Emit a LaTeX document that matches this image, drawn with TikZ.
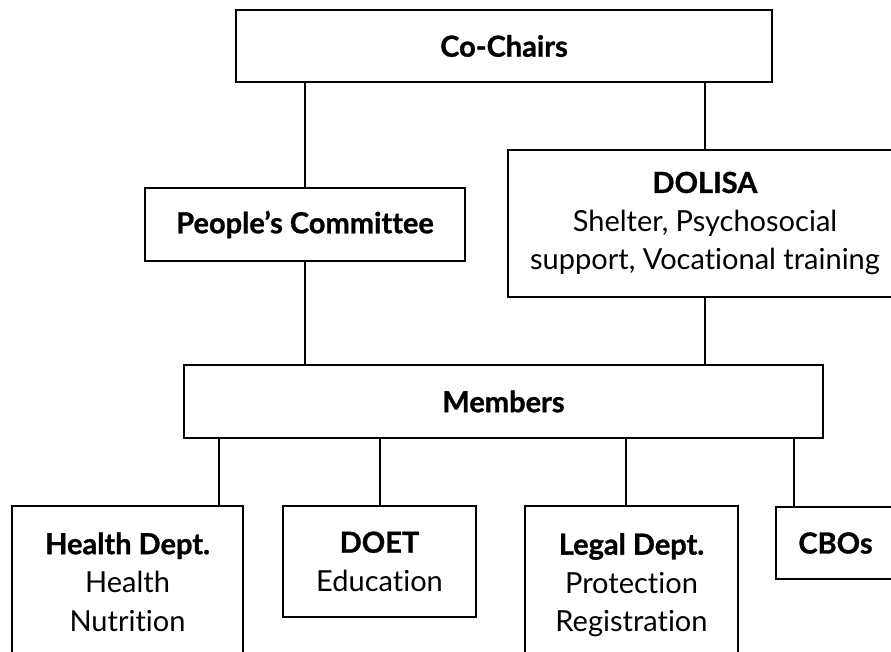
\documentclass[tikz,border=0pt]{standalone}
\usepackage{fontspec}
\setmainfont{Lato}[Ligatures=NoCommon, BoldFeatures={FakeBold=1}]
\usetikzlibrary{positioning}
\tikzset{
  caja/.style={draw, line width=2pt, align=center, inner sep=0pt, fill=white,
    font=\fontsize{29}{38.5}\selectfont},
  linea/.style={line width=1.7pt}
}

\begin{document}
\begin{tikzpicture}[x=1pt, y=-1pt]
    \path[use as bounding box, clip] (0,0) rectangle (891,651);

    %Cajas de arriba
    \node[caja, minimum width=536pt, minimum height=72pt] (cochairs) at (504,46) {\textbf{Co-Chairs}};
    \node[caja, minimum width=320pt, minimum height=73pt] (people) at (305,224.5) {\textbf{People’s Committee}};
    \node[caja, minimum width=394pt, minimum height=147pt] (dolisa) at (705,223.5)
        {\textbf{DOLISA}\\Shelter, Psychosocial\\support, Vocational training};

    %Caja del centro
    \node[caja, minimum width=639pt, minimum height=73pt] (members) at (503.5,401.5) {\textbf{Members}};

    %Cajas de abajo
    \node[caja, minimum width=231pt, minimum height=152pt] (health) at (127.5,582) {\textbf{Health Dept.}\\Health\\Nutrition};
    \node[caja, minimum width=193pt, minimum height=111pt] (doet) at (379.5,561.5) {\textbf{DOET}\\Education};
    \node[caja, minimum width=213pt, minimum height=158pt] (legal) at (631.5,585) {\textbf{Legal Dept.}\\Protection\\Registration};
    \node[caja, minimum width=119pt, minimum height=72pt] (cbos) at (835.5,543) {\textbf{CBOs}};

    %Puntos de salida bajo Members
    \coordinate (m1) at (219,438);
    \coordinate (m2) at (380,438);
    \coordinate (m3) at (626,438);
    \coordinate (m4) at (794,438);

    %Lineas
    \draw[linea] (people.north) -- (people.north |- cochairs.south);
    \draw[linea] (dolisa.north) -- (dolisa.north |- cochairs.south);
    \draw[linea] (people.south) -- (people.south |- members.north);
    \draw[linea] (dolisa.south) -- (dolisa.south |- members.north);
    \draw[linea] (m1) -- (m1 |- health.north);
    \draw[linea] (m2) -- (m2 |- doet.north);
    \draw[linea] (m3) -- (m3 |- legal.north);
    \draw[linea] (m4) -- (m4 |- cbos.north);
\end{tikzpicture}
\end{document}
